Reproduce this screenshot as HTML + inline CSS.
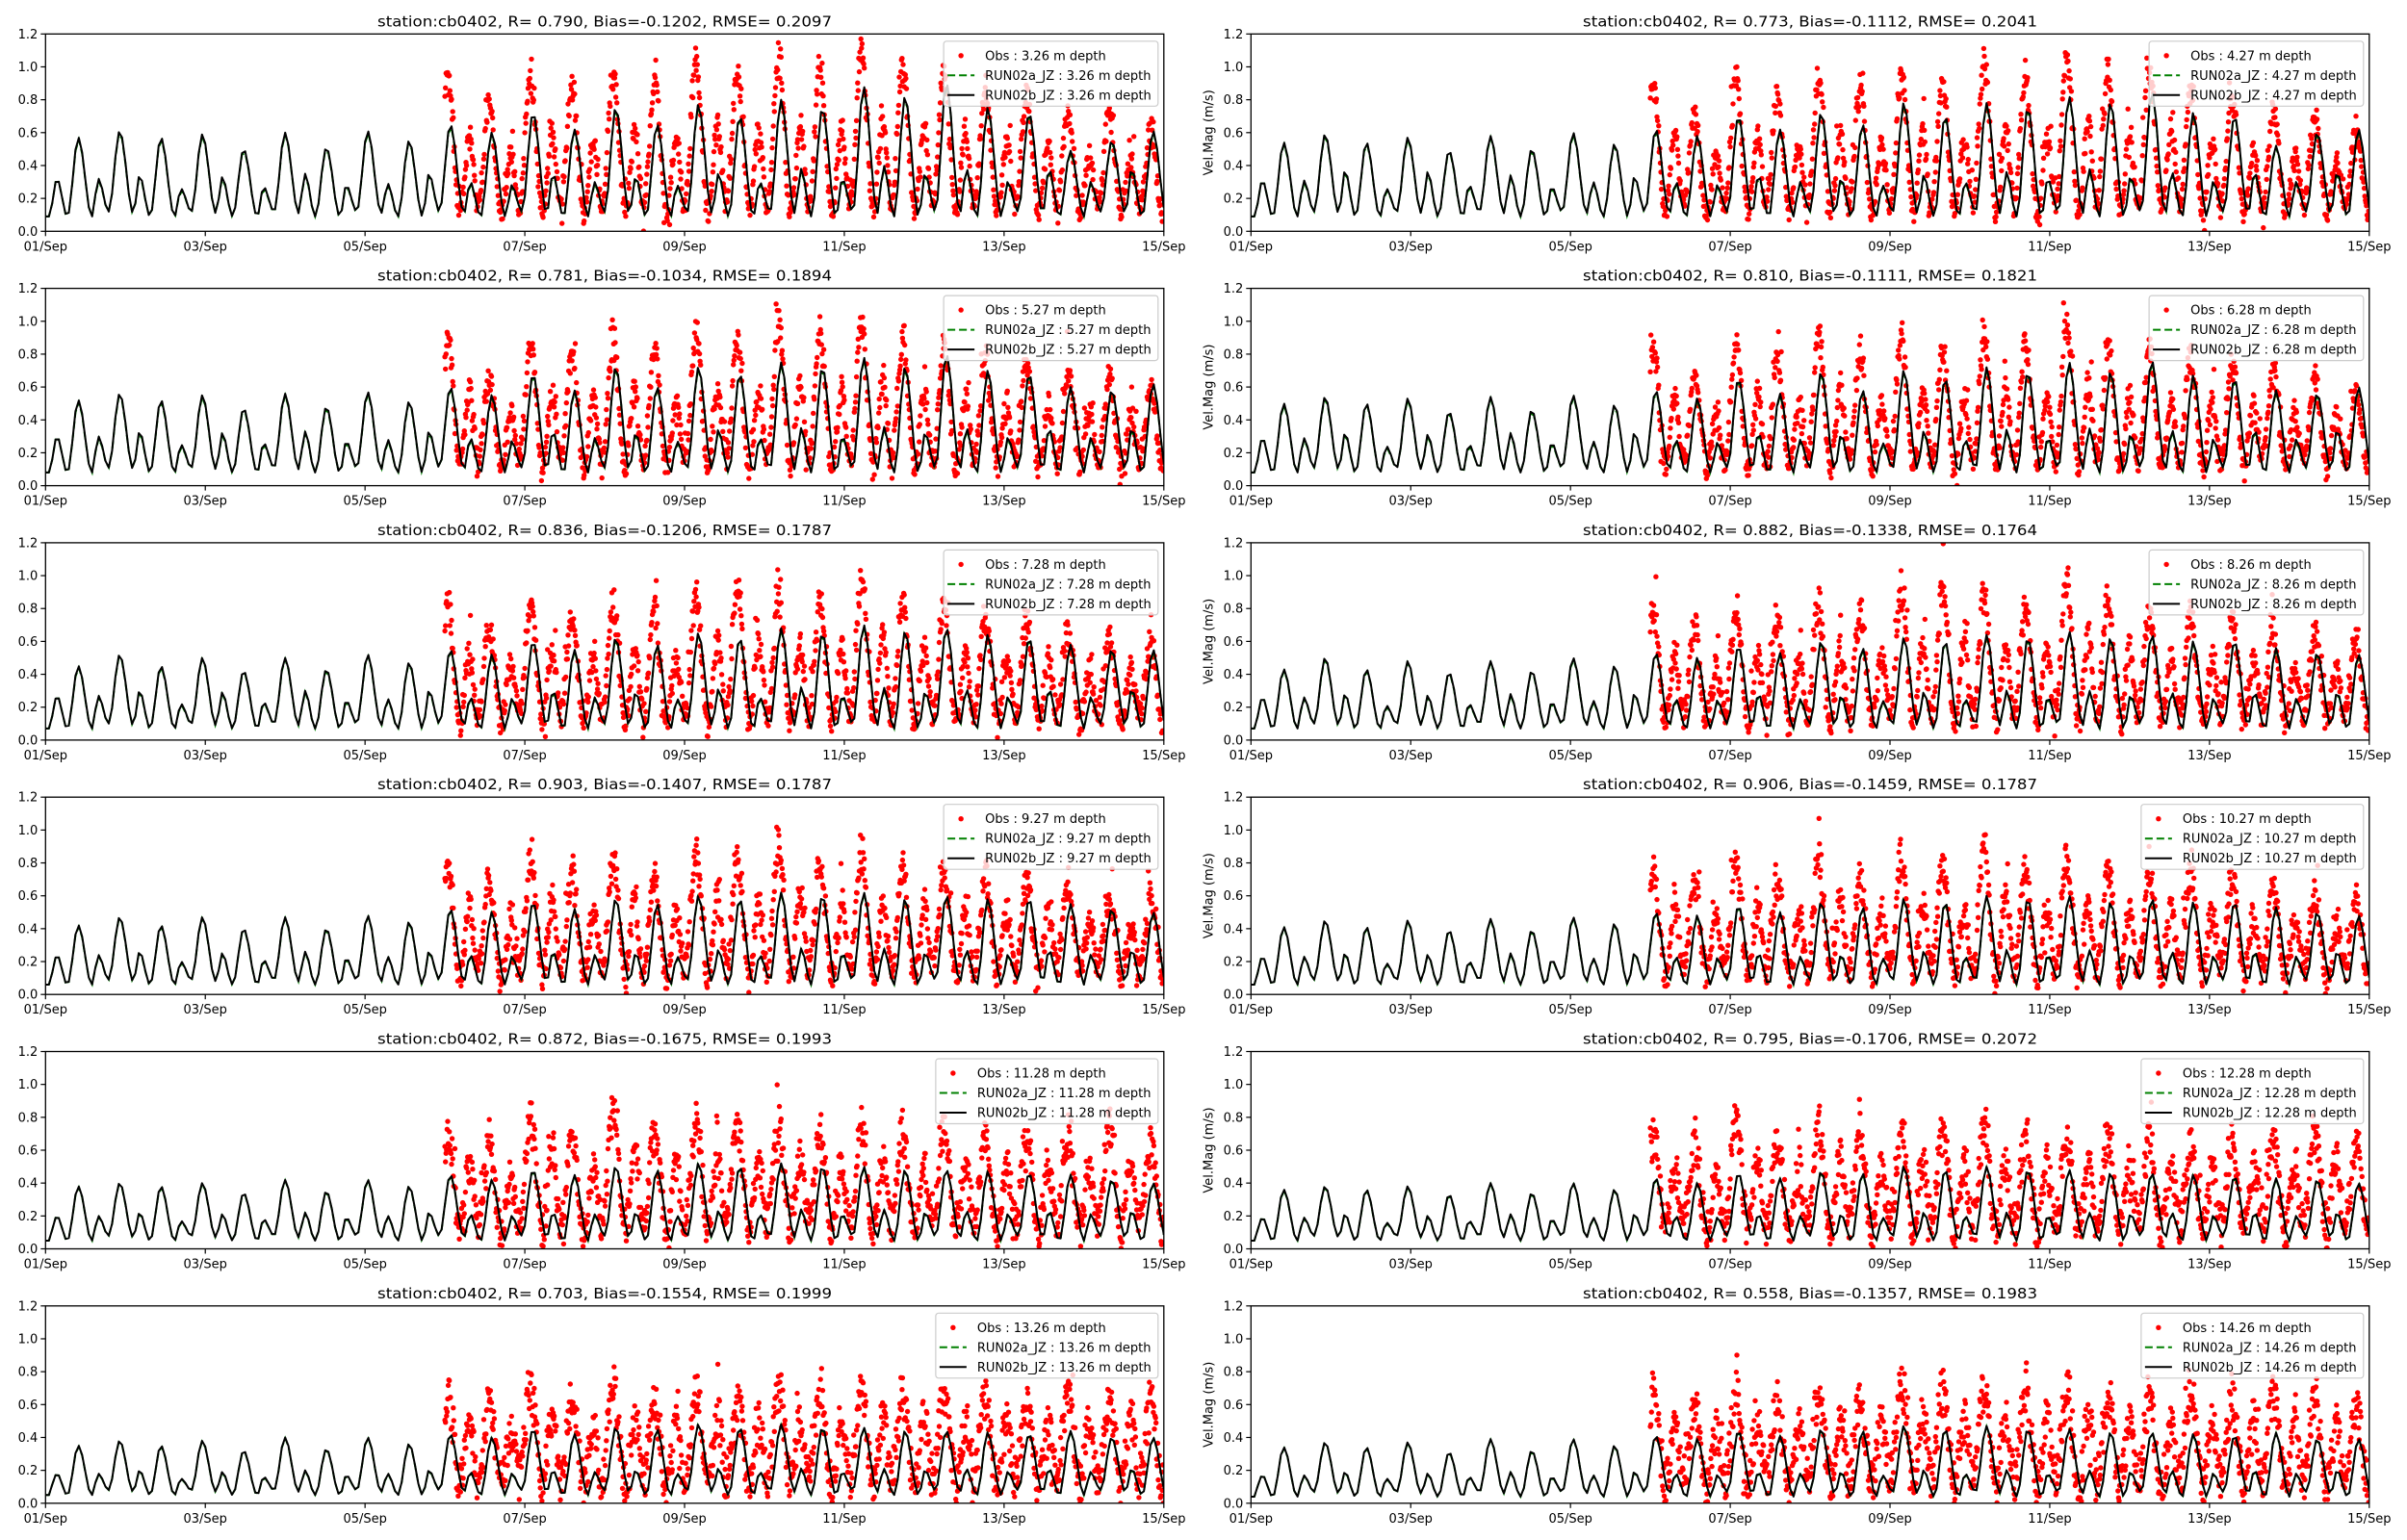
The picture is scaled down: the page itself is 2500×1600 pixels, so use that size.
<!DOCTYPE html>
<html><head><meta charset="utf-8">
<style>
html,body{margin:0;padding:0;background:#fff;}
svg{display:block;font-family:"DejaVu Sans","Liberation Sans",sans-serif;}
</style></head>
<body>
<svg id="fig" width="2500" height="1600" viewBox="0 0 2500 1600" xmlns="http://www.w3.org/2000/svg"></svg>
<script>
// ---- chart data ----
const depths = ["3.26","4.27","5.27","6.28","7.28","8.26","9.27","10.27","11.28","12.28","13.26","14.26"];
const titles = [
 "station:cb0402, R= 0.790, Bias=-0.1202, RMSE= 0.2097",
 "station:cb0402, R= 0.773, Bias=-0.1112, RMSE= 0.2041",
 "station:cb0402, R= 0.781, Bias=-0.1034, RMSE= 0.1894",
 "station:cb0402, R= 0.810, Bias=-0.1111, RMSE= 0.1821",
 "station:cb0402, R= 0.836, Bias=-0.1206, RMSE= 0.1787",
 "station:cb0402, R= 0.882, Bias=-0.1338, RMSE= 0.1764",
 "station:cb0402, R= 0.903, Bias=-0.1407, RMSE= 0.1787",
 "station:cb0402, R= 0.906, Bias=-0.1459, RMSE= 0.1787",
 "station:cb0402, R= 0.872, Bias=-0.1675, RMSE= 0.1993",
 "station:cb0402, R= 0.795, Bias=-0.1706, RMSE= 0.2072",
 "station:cb0402, R= 0.703, Bias=-0.1554, RMSE= 0.1999",
 "station:cb0402, R= 0.558, Bias=-0.1357, RMSE= 0.1983"];
const yTicks = [0.0,0.2,0.4,0.6,0.8,1.0,1.2];
const yTickLabels = ["0.0","0.2","0.4","0.6","0.8","1.0","1.2"];
const xTicks = [0,2,4,6,8,10,12,14];
const xTickLabels = ["01/Sep","03/Sep","05/Sep","07/Sep","09/Sep","11/Sep","13/Sep","15/Sep"];
// model (RUN02b) big peaks per tidal cycle (28 cycles) for each panel
const modelBig = [
 [0.57,0.61,0.57,0.59,0.50,0.60,0.51,0.61,0.55,0.65,0.60,0.72,0.62,0.75,0.65,0.77,0.70,0.80,0.75,0.88,0.82,0.90,0.75,0.72,0.49,0.55,0.61,0.55],
 [0.54,0.59,0.54,0.57,0.49,0.58,0.50,0.60,0.53,0.62,0.58,0.70,0.62,0.72,0.65,0.78,0.70,0.78,0.75,0.82,0.78,0.85,0.72,0.70,0.52,0.60,0.62,0.55],
 [0.52,0.56,0.52,0.55,0.47,0.56,0.48,0.57,0.51,0.60,0.55,0.68,0.58,0.72,0.60,0.72,0.68,0.75,0.72,0.78,0.72,0.80,0.70,0.68,0.60,0.58,0.62,0.55],
 [0.50,0.54,0.50,0.53,0.45,0.54,0.46,0.55,0.49,0.58,0.53,0.65,0.56,0.69,0.58,0.70,0.65,0.72,0.69,0.75,0.69,0.76,0.67,0.65,0.58,0.56,0.60,0.53],
 [0.45,0.52,0.45,0.50,0.42,0.50,0.43,0.52,0.47,0.55,0.52,0.60,0.55,0.62,0.58,0.65,0.62,0.68,0.65,0.70,0.66,0.68,0.64,0.62,0.58,0.55,0.55,0.50],
 [0.43,0.50,0.43,0.48,0.41,0.48,0.42,0.50,0.45,0.53,0.50,0.57,0.53,0.60,0.56,0.62,0.60,0.64,0.62,0.66,0.62,0.64,0.60,0.60,0.56,0.53,0.52,0.48],
 [0.42,0.47,0.42,0.47,0.40,0.47,0.40,0.48,0.44,0.52,0.50,0.56,0.52,0.58,0.55,0.60,0.58,0.62,0.60,0.62,0.58,0.60,0.58,0.58,0.55,0.52,0.50,0.48],
 [0.41,0.45,0.41,0.45,0.39,0.46,0.39,0.47,0.43,0.50,0.48,0.54,0.50,0.56,0.53,0.58,0.56,0.60,0.58,0.60,0.56,0.58,0.56,0.56,0.53,0.50,0.48,0.46],
 [0.38,0.40,0.38,0.40,0.34,0.42,0.35,0.42,0.38,0.45,0.42,0.48,0.45,0.50,0.48,0.52,0.50,0.52,0.50,0.50,0.48,0.48,0.47,0.46,0.45,0.42,0.40,0.42],
 [0.36,0.38,0.36,0.38,0.33,0.40,0.34,0.40,0.36,0.43,0.40,0.46,0.43,0.47,0.46,0.50,0.48,0.50,0.48,0.48,0.46,0.46,0.45,0.44,0.43,0.42,0.40,0.40],
 [0.35,0.38,0.35,0.38,0.32,0.40,0.33,0.40,0.36,0.42,0.40,0.45,0.42,0.46,0.45,0.48,0.46,0.48,0.46,0.46,0.44,0.44,0.43,0.42,0.44,0.40,0.40,0.38],
 [0.34,0.37,0.34,0.37,0.31,0.39,0.32,0.39,0.35,0.41,0.39,0.44,0.41,0.45,0.44,0.47,0.45,0.47,0.45,0.45,0.43,0.43,0.42,0.41,0.43,0.39,0.39,0.37]];
// model small (secondary) peaks per cycle
const modelSmall = [
 [0.32,0.34,0.26,0.33,0.27,0.35,0.28,0.29,0.35,0.30,0.28,0.35,0.30,0.33,0.28,0.35,0.30,0.38,0.32,0.40,0.35,0.38,0.30,0.38,0.30,0.38,0.30,0.35],
 [0.31,0.37,0.26,0.36,0.28,0.34,0.27,0.30,0.33,0.30,0.28,0.34,0.30,0.32,0.28,0.34,0.30,0.36,0.32,0.38,0.33,0.36,0.30,0.36,0.30,0.36,0.30,0.33],
 [0.30,0.33,0.25,0.32,0.26,0.33,0.27,0.28,0.33,0.29,0.27,0.33,0.29,0.32,0.27,0.34,0.29,0.35,0.30,0.36,0.32,0.35,0.29,0.35,0.29,0.35,0.29,0.32],
 [0.29,0.32,0.24,0.31,0.25,0.32,0.26,0.27,0.32,0.28,0.26,0.32,0.28,0.31,0.26,0.33,0.28,0.34,0.29,0.35,0.31,0.34,0.28,0.34,0.28,0.34,0.28,0.31],
 [0.27,0.30,0.22,0.29,0.23,0.30,0.24,0.25,0.30,0.26,0.25,0.30,0.26,0.29,0.25,0.31,0.26,0.32,0.27,0.32,0.29,0.31,0.26,0.31,0.26,0.31,0.26,0.29],
 [0.26,0.28,0.21,0.27,0.22,0.28,0.23,0.24,0.28,0.25,0.24,0.28,0.25,0.27,0.24,0.29,0.25,0.30,0.26,0.30,0.27,0.29,0.25,0.29,0.25,0.29,0.25,0.27],
 [0.24,0.26,0.20,0.25,0.21,0.26,0.22,0.23,0.26,0.24,0.23,0.26,0.24,0.25,0.23,0.27,0.24,0.28,0.25,0.28,0.25,0.27,0.24,0.27,0.24,0.27,0.24,0.25],
 [0.23,0.25,0.19,0.24,0.20,0.25,0.21,0.22,0.25,0.23,0.22,0.25,0.23,0.24,0.22,0.26,0.23,0.27,0.24,0.27,0.24,0.26,0.23,0.26,0.23,0.26,0.23,0.24],
 [0.20,0.22,0.17,0.21,0.18,0.22,0.19,0.20,0.22,0.21,0.20,0.22,0.21,0.22,0.20,0.23,0.21,0.24,0.21,0.24,0.22,0.23,0.21,0.23,0.21,0.23,0.21,0.22],
 [0.19,0.21,0.16,0.20,0.17,0.21,0.18,0.19,0.21,0.20,0.19,0.21,0.20,0.21,0.19,0.22,0.20,0.22,0.20,0.22,0.21,0.22,0.20,0.22,0.20,0.22,0.20,0.21],
 [0.18,0.20,0.15,0.19,0.16,0.20,0.17,0.18,0.20,0.19,0.18,0.20,0.19,0.20,0.18,0.21,0.19,0.21,0.19,0.21,0.20,0.21,0.19,0.21,0.19,0.21,0.19,0.20],
 [0.17,0.19,0.15,0.18,0.16,0.19,0.16,0.17,0.19,0.18,0.17,0.19,0.18,0.19,0.17,0.20,0.18,0.20,0.18,0.20,0.19,0.20,0.18,0.20,0.18,0.20,0.18,0.19]];
// model trough level per panel
const modelTrough = [0.09,0.09,0.08,0.08,0.07,0.07,0.06,0.06,0.05,0.05,0.05,0.04];
// RUN02a offset relative to RUN02b per panel
const runADelta = [-0.01,-0.01,-0.01,-0.01,-0.008,-0.008,-0.006,-0.006,-0.005,-0.005,-0.004,-0.004];
// observed big peaks per cycle (cycles 9..27)
const obsBig = [
 [0.98,0.80,0.98,0.90,1.00,0.95,1.05,1.00,1.08,1.02,1.10,1.05,1.00,0.90,0.85,0.75,0.72,0.62,0.60],
 [0.95,0.72,0.95,0.85,0.95,0.90,1.00,0.95,1.05,0.95,1.10,0.98,1.00,0.90,0.85,0.75,0.72,0.62,0.60],
 [0.92,0.70,0.90,0.82,0.92,0.85,0.95,0.90,1.00,0.95,1.02,0.90,0.85,0.80,0.78,0.70,0.68,0.60,0.58],
 [0.88,0.70,0.88,0.80,0.95,0.82,0.92,0.85,0.95,0.88,1.00,0.88,0.85,0.80,0.78,0.70,0.66,0.58,0.56],
 [0.85,0.72,0.85,0.78,0.85,0.80,0.90,0.95,0.92,0.85,1.00,0.85,0.82,0.78,0.75,0.68,0.65,0.62,0.60],
 [0.82,0.70,0.82,0.76,0.85,0.80,0.92,0.95,0.90,0.85,1.00,0.85,0.82,0.78,0.75,0.70,0.66,0.62,0.60],
 [0.82,0.70,0.85,0.75,0.85,0.75,0.88,0.85,0.92,0.80,0.88,0.80,0.78,0.75,0.72,0.68,0.62,0.60,0.58],
 [0.80,0.70,0.82,0.72,0.85,0.72,0.85,0.80,0.92,0.78,0.85,0.78,0.76,0.75,0.72,0.68,0.62,0.60,0.58],
 [0.75,0.65,0.82,0.72,0.85,0.72,0.80,0.75,0.78,0.72,0.75,0.72,0.72,0.70,0.72,0.70,0.75,0.65,0.62],
 [0.70,0.62,0.78,0.68,0.78,0.70,0.76,0.72,0.75,0.70,0.72,0.70,0.70,0.68,0.70,0.68,0.75,0.65,0.62],
 [0.68,0.60,0.72,0.62,0.72,0.65,0.72,0.68,0.72,0.68,0.70,0.68,0.68,0.70,0.65,0.72,0.68,0.62,0.60],
 [0.66,0.58,0.70,0.62,0.72,0.65,0.75,0.70,0.72,0.68,0.70,0.66,0.66,0.68,0.66,0.70,0.66,0.62,0.60]];
const obsSmallRatio = [0.62,0.62,0.64,0.64,0.66,0.66,0.68,0.68,0.72,0.74,0.76,0.76];
const obsSpread = [0.06,0.06,0.07,0.07,0.08,0.08,0.09,0.09,0.11,0.12,0.13,0.13];

// ---- layout ----
const NS="http://www.w3.org/2000/svg";
const svg=document.getElementById('fig');
const colX=[47.3,1299.3], plotW=1161.5, rowY0=35.3, rowStep=264.3, plotH=205;
const T0=0.41, PER=0.5175, OBS_START=5.0, FIRST_OBS_CYCLE=9;
function mk(tag,attrs,parent){const e=document.createElementNS(NS,tag);for(const k in attrs)e.setAttribute(k,attrs[k]);(parent||svg).appendChild(e);return e;}
function hash(n){const s=Math.sin(n*12.9898+78.233)*43758.5453;return s-Math.floor(s);}
function ease(a,b,f){return a+(b-a)*(1-Math.cos(Math.PI*f))/2;}
function modelKeys(p,delta){
  const keys=[];const B=modelBig[p],S=modelSmall[p],tr=modelTrough[p];
  keys.push([T0-PER+0.17, tr+0.05]);
  keys.push([T0-PER+0.25, S[0]]);
  keys.push([T0-PER+0.38, tr]);
  for(let k=0;k<B.length;k++){
    const P=T0+k*PER;
    keys.push([P,B[k]+delta]);
    keys.push([P+0.17,tr+0.02*((k%2))]);
    keys.push([P+0.25,S[k]+delta]);
    keys.push([P+0.38,tr+0.03*(((k+1)%2))]);
  }
  return keys;
}
function evalKeys(keys,t){
  for(let i=0;i<keys.length-1;i++){if(t>=keys[i][0]&&t<=keys[i+1][0]){const f=(t-keys[i][0])/(keys[i+1][0]-keys[i][0]);return ease(keys[i][1],keys[i+1][1],f);}}
  return keys[keys.length-1][1];
}
function obsKeys(p){
  const keys=[];const O=obsBig[p],r=obsSmallRatio[p];
  for(let j=0;j<O.length;j++){
    const P=T0+(FIRST_OBS_CYCLE+j)*PER-0.03;
    keys.push([P-0.14,0.16]);
    keys.push([P,O[j]]);
    keys.push([P+0.15,0.12]);
    keys.push([P+0.27,O[j]*r]);
  }
  keys.unshift([OBS_START-0.1,0.5]);
  return keys;
}

for(let p=0;p<12;p++){
  const col=p%2,row=Math.floor(p/2);
  const L=colX[col],Tp=rowY0+row*rowStep,R=L+plotW,Bt=Tp+plotH;
  const xs=t=>L+t/14*plotW, ys=v=>Bt-v/1.2*plotH;
  const g=mk('g',{});
  
  
  const clipId='clip'+p;
  const cp=mk('clipPath',{id:clipId},g);mk('rect',{x:L,y:Tp,width:plotW,height:plotH},cp);
  const ti=mk('text',{x:(L+R)/2,y:Tp-8,'text-anchor':'middle','font-size':15,fill:'#000',textLength:472,lengthAdjust:'spacingAndGlyphs'},g);
  ti.textContent=titles[p];
  
  
  const data=mk('g',{'clip-path':'url(#'+clipId+')'},g);
  // obs dots
  const ok=obsKeys(p);const og=mk('g',{fill:'#ff0000'},data);
  
  
  const perDay=144;
  const nObs=Math.round((14-OBS_START)*perDay);
  for(let i=0;i<nObs;i++){
    const t=OBS_START+i/perDay;
    let v=evalKeys(ok,t);
    const h1=hash(i*3+p*1000),h2=hash(i*7+p*977+5);
    v=v*(0.9+0.15*h1)+(h2-0.5)*2*obsSpread[p];
    if(h1>0.93) v+= (hash(i*11+p)-0.5)*0.35;
    if(v<0)v=Math.abs(v)*0.5;
    mk('circle',{cx:xs(t).toFixed(1),cy:ys(v).toFixed(1),r:2.7},og);
  }
  function drawLine(delta,attrs,name){
    const keys=modelKeys(p,delta);let d='';
    for(let i=0;i<=14*24;i++){const t=i/24;d+=(i?'L':'M')+xs(t).toFixed(1)+','+ys(evalKeys(keys,t)).toFixed(1);}
    const pl=mk('path',Object.assign({d:d,fill:'none'},attrs),data);
    
    
  }
  drawLine(runADelta[p],{stroke:'#008000','stroke-width':2,'stroke-dasharray':'8,4'},'run02a-line');
  drawLine(0,{stroke:'#000','stroke-width':2,'stroke-linejoin':'round'},'run02b-line');
  const fr=mk('rect',{x:L,y:Tp,width:plotW,height:plotH,fill:'none',stroke:'#000','stroke-width':1.3},g);
  
  
  yTicks.forEach((v,i)=>{
    mk('line',{x1:L-5,x2:L,y1:ys(v),y2:ys(v),stroke:'#000','stroke-width':1.2},g);
    const tx=mk('text',{x:L-8,y:ys(v)+4.5,'text-anchor':'end','font-size':13,fill:'#000'},g);
    tx.textContent=yTickLabels[i];
    
    
  });
  xTicks.forEach((t,i)=>{
    mk('line',{x1:xs(t),x2:xs(t),y1:Bt,y2:Bt+5,stroke:'#000','stroke-width':1.2},g);
    const tx=mk('text',{x:xs(t),y:Bt+20,'text-anchor':'middle','font-size':13,fill:'#000'},g);
    tx.textContent=xTickLabels[i];
    
    
  });
  if(col===1){
    const yl=mk('text',{x:0,y:0,'text-anchor':'middle','font-size':13,fill:'#000',transform:'translate('+(L-40)+','+(Tp+plotH/2)+') rotate(-90)'},g);
    yl.textContent='Vel.Mag (m/s)';
    
    
  }
  const lg=mk('g',{},g);
  
  
  const box=mk('rect',{y:Tp+7.5,height:67.5,rx:3,fill:'#fff','fill-opacity':0.8,stroke:'#cccccc','stroke-width':1.2},lg);
  const labels=['Obs : '+depths[p]+' m depth','RUN02a_JZ : '+depths[p]+' m depth','RUN02b_JZ : '+depths[p]+' m depth'];
  let maxW=0;const texts=[];
  labels.forEach((s,i)=>{const tx=mk('text',{y:Tp+27+i*20.5,'font-size':13,fill:'#000'},lg);tx.textContent=s;
    
    
    texts.push(tx);maxW=Math.max(maxW,tx.getComputedTextLength());});
  const bx=R-6-(maxW+50);
  box.setAttribute('x',bx);box.setAttribute('width',maxW+50);
  texts.forEach(tx=>tx.setAttribute('x',bx+43));
  mk('circle',{cx:bx+18,cy:Tp+22.5,r:2.7,fill:'#ff0000'},lg);
  mk('line',{x1:bx+4,x2:bx+32,y1:Tp+43,y2:Tp+43,stroke:'#008000','stroke-width':2,'stroke-dasharray':'8,4'},lg);
  mk('line',{x1:bx+4,x2:bx+32,y1:Tp+63.5,y2:Tp+63.5,stroke:'#000','stroke-width':2},lg);
}
</script>
</body></html>
